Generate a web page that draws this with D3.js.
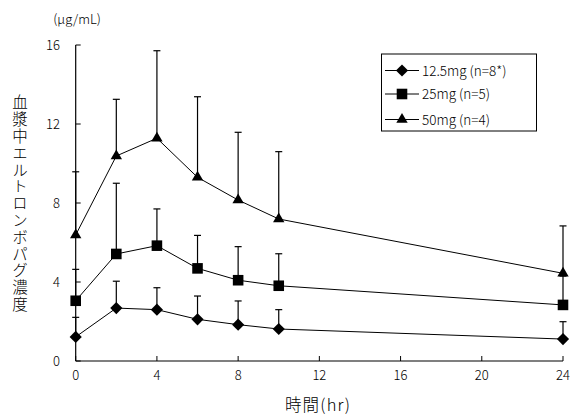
<!DOCTYPE html>
<html>
<head>
<meta charset="utf-8">
<script src="https://cdn.jsdelivr.net/npm/d3@7"></script>
<style>
  body { margin: 0; background: #fff; }
  svg { display: block; }
  text { font-family: "Noto Sans CJK JP", sans-serif; fill: #000; font-weight: 300; }
</style>
</head>
<body>
<svg id="chart" width="574" height="419"></svg>
<script>
// sampling times (hr)
const hours = [0, 2, 4, 6, 8, 10, 24];

// mean and SD (ug/mL)
const dose125Mean = [1.22, 2.68, 2.60, 2.11, 1.84, 1.62, 1.11];
const dose125Sd   = [0.99, 1.36, 1.11, 1.18, 1.20, 0.98, 0.88];
const dose25Mean  = [3.05, 5.42, 5.84, 4.69, 4.09, 3.81, 2.84];
const dose25Sd    = [1.59, 3.58, 1.86, 1.67, 1.70, 1.62, 1.46];
const dose50Mean  = [6.38, 10.38, 11.28, 9.30, 8.15, 7.19, 4.44];
const dose50Sd    = [3.20, 2.87, 4.43, 4.08, 3.43, 3.41, 2.40];

const seriesNames = ["12.5mg (n=8*)", "25mg (n=5)", "50mg (n=4)"];
const xTicks = [0, 4, 8, 12, 16, 20, 24];
const yTicks = [0, 4, 8, 12, 16];

const series = [
  { name: seriesNames[0], mean: dose125Mean, sd: dose125Sd, shape: "diamond" },
  { name: seriesNames[1], mean: dose25Mean,  sd: dose25Sd,  shape: "square" },
  { name: seriesNames[2], mean: dose50Mean,  sd: dose50Sd,  shape: "triangle" }
];

const svg = d3.select("#chart");

const x = d3.scaleLinear().domain([0, 24]).range([75.7, 563]);
const y = d3.scaleLinear().domain([0, 16]).range([361, 45]);

// marker generators
function markerPath(shape) {
  if (shape === "diamond") return d3.symbol(d3.symbolSquare, 74)();
  if (shape === "square") return d3.symbol(d3.symbolSquare, 112)();
  return d3.symbol(d3.symbolTriangle, 56)();
}
function markerTransform(shape, px, py) {
  return shape === "diamond" ? `translate(${px},${py}) rotate(45)` : `translate(${px},${py})`;
}

// --- axes ---
const xAxis = svg.append("g");
xAxis.append("line")
  .attr("x1", x(0)).attr("x2", x(24)).attr("y1", y(0)).attr("y2", y(0))
  .attr("stroke", "#000").attr("stroke-width", 1.2);
xTicks.forEach(t => {
  xAxis.append("line")
    .attr("x1", x(t)).attr("x2", x(t)).attr("y1", y(0)).attr("y2", y(0) - 5)
    .attr("stroke", "#000").attr("stroke-width", 1);
  xAxis.append("text")
    .attr("x", x(t)).attr("y", 380)
    .attr("text-anchor", "middle").attr("font-size", 13)
    .text(t);
});

const yAxis = svg.append("g");
yAxis.append("line")
  .attr("x1", x(0)).attr("x2", x(0)).attr("y1", y(0)).attr("y2", y(16))
  .attr("stroke", "#000").attr("stroke-width", 1.2);
yTicks.forEach(t => {
  yAxis.append("line")
    .attr("x1", x(0)).attr("x2", x(0) + 5).attr("y1", y(t)).attr("y2", y(t))
    .attr("stroke", "#000").attr("stroke-width", 1);
  yAxis.append("text")
    .attr("x", 60).attr("y", y(t) + 5)
    .attr("text-anchor", "end").attr("font-size", 13)
    .text(t);
});

// axis titles
svg.append("text")
  .attr("x", 318).attr("y", 411)
  .attr("text-anchor", "middle").attr("font-size", 16.5)
  .style("letter-spacing", "1.2px")
  .text("時間(hr)");

svg.append("text")
  .attr("x", 77).attr("y", 24)
  .attr("text-anchor", "middle").attr("font-size", 13)
  .text("(μg/mL)");

svg.append("text")
  .attr("x", 20).attr("y", 204)
  .attr("text-anchor", "middle").attr("font-size", 15.5)
  .style("writing-mode", "vertical-rl")
  .style("letter-spacing", "1.3px")
  .text("血漿中エルトロンボパグ濃度");

// --- data ---
const line = d3.line().x(d => x(d[0])).y(d => y(d[1]));

series.forEach(s => {
  const pts = hours.map((h, i) => [h, s.mean[i], s.sd[i]]);
  const g = svg.append("g");

  g.append("path")
    .datum(pts)
    .attr("d", line)
    .attr("fill", "none").attr("stroke", "#000").attr("stroke-width", 1);

  // upper error bars
  g.selectAll(".eb").data(pts).enter().append("line")
    .attr("x1", d => x(d[0])).attr("x2", d => x(d[0]))
    .attr("y1", d => y(d[1])).attr("y2", d => y(d[1] + d[2]))
    .attr("stroke", "#000").attr("stroke-width", 1.2);
  g.selectAll(".cap").data(pts).enter().append("line")
    .attr("x1", d => x(d[0]) - 3.5).attr("x2", d => x(d[0]) + 3.5)
    .attr("y1", d => y(d[1] + d[2])).attr("y2", d => y(d[1] + d[2]))
    .attr("stroke", "#000").attr("stroke-width", 1.2);

  g.selectAll(".mk").data(pts).enter().append("path")
    .attr("d", markerPath(s.shape))
    .attr("transform", d => markerTransform(s.shape, x(d[0]), y(d[1])))
    .attr("fill", "#000");
});

// --- legend ---
const legend = svg.append("g");
legend.append("rect")
  .attr("x", 381.5).attr("y", 54).attr("width", 155).attr("height", 77)
  .attr("fill", "#fff").attr("stroke", "#000").attr("stroke-width", 1);

const rowY = [70.5, 94, 119.5];
series.forEach((s, i) => {
  legend.append("line")
    .attr("x1", 385).attr("x2", 419).attr("y1", rowY[i]).attr("y2", rowY[i])
    .attr("stroke", "#000").attr("stroke-width", 1);
  legend.append("path")
    .attr("d", markerPath(s.shape))
    .attr("transform", markerTransform(s.shape, 402, rowY[i]))
    .attr("fill", "#000");
  legend.append("text")
    .attr("x", 422).attr("y", rowY[i] + 5)
    .attr("font-size", 13.5)
    .text(s.name);
});
</script>
</body>
</html>
